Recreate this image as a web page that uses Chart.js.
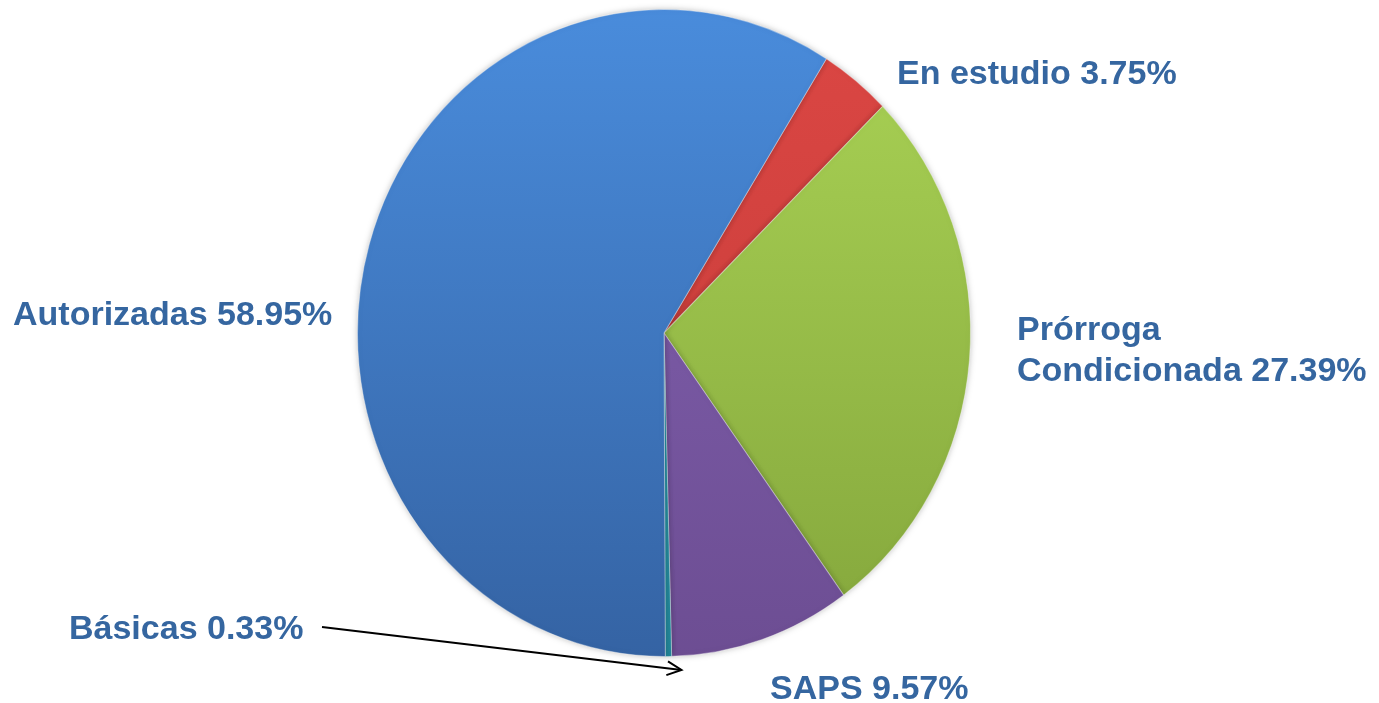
<!DOCTYPE html>
<html lang="es">
<head>
<meta charset="utf-8">
<title>Distribución</title>
<script src="https://cdn.jsdelivr.net/npm/chart.js@4.4.0/dist/chart.umd.min.js"></script>
<style>
    html, body { margin: 0; padding: 0; background: #fff; }
    #wrap { width: 1379px; height: 703px; position: relative; }
</style>
</head>
<body>
<div id="wrap"><canvas id="myChart" width="1379" height="703"></canvas></div>
<script>
// slices in clockwise order, starting at the top-right (Chart.js rotation below)
var categories = ['En estudio', 'Prórroga Condicionada', 'SAPS', 'Básicas', 'Autorizadas'];
var values = [3.75, 27.39, 9.57, 0.33, 58.95];
var topColors = ['#dc4744', '#abd456', '#8463b3', '#2fa7b8', '#4a8ddd'];
var bottomColors = ['#c23a37', '#83a53b', '#6c4d92', '#23879a', '#3462a2'];

// where each label goes (x, y of first baseline), same order as categories
var labelPos = [
    [897, 84],
    [1017, 340],
    [770, 699],
    [69, 639],
    [13, 325]
];

var cx = 664, cy = 333, rx = 307, ry = 324;

function sliceColor(ctx) {
    var i = ctx.dataIndex;
    var chart = ctx.chart;
    var g = chart.ctx.createLinearGradient(0, cy - ry, 0, cy + ry);
    g.addColorStop(0, topColors[i]);
    g.addColorStop(1, bottomColors[i]);
    return g;
}

// squash the circle a little so it matches the slightly tall pie
const ovalPlugin = {
    id: 'oval',
    beforeDatasetsDraw(chart) {
        const c = chart.ctx;
        c.save();
        c.translate(cx, cy);
        c.scale(1, ry / rx);
        c.translate(-cx, -cy);
        c.shadowColor = 'rgba(0,0,0,0.25)';
        c.shadowBlur = 6;
    },
    afterDatasetsDraw(chart) {
        chart.ctx.restore();
    }
};

const labelPlugin = {
    id: 'sliceLabels',
    afterDraw(chart) {
        const c = chart.ctx;
        c.save();
        c.font = 'bold 34px "Liberation Sans", Arial, sans-serif';
        c.fillStyle = '#3566a0';
        c.textAlign = 'left';
        c.textBaseline = 'alphabetic';
        for (var i = 0; i < categories.length; i++) {
            var txt = categories[i] + ' ' + values[i].toFixed(2) + '%';
            var p = labelPos[i];
            if (categories[i] === 'Prórroga Condicionada') {
                c.fillText('Prórroga', p[0], p[1]);
                c.fillText('Condicionada ' + values[i].toFixed(2) + '%', p[0], p[1] + 41);
            } else {
                c.fillText(txt, p[0], p[1]);
            }
        }

        // arrow from the Básicas label to its thin slice
        var arc = chart.getDatasetMeta(0).data[3];
        var mid = (arc.startAngle + arc.endAngle) / 2;
        var ex = cx + Math.cos(mid) * rx + 13;
        var ey = cy + Math.sin(mid) * ry + 13;
        var sx = 322, sy = 627;
        c.strokeStyle = '#000';
        c.lineWidth = 2;
        c.beginPath();
        c.moveTo(sx, sy);
        c.lineTo(ex, ey);
        c.stroke();
        var ang = Math.atan2(ey - sy, ex - sx);
        c.beginPath();
        c.moveTo(ex - 16 * Math.cos(ang - 0.45), ey - 16 * Math.sin(ang - 0.45));
        c.lineTo(ex, ey);
        c.lineTo(ex - 16 * Math.cos(ang + 0.45), ey - 16 * Math.sin(ang + 0.45));
        c.stroke();
        c.restore();
    }
};

const ctx = document.getElementById('myChart').getContext('2d');
const myChart = new Chart(ctx, {
    type: 'pie',
    data: {
        labels: categories,
        datasets: [{
            data: values,
            backgroundColor: sliceColor,
            borderColor: 'rgba(255,255,255,0.35)',
            borderWidth: 1
        }]
    },
    options: {
        responsive: false,
        animation: false,
        rotation: 32,
        layout: {
            padding: { left: cx - rx, right: 1379 - (cx + rx), top: cy - rx, bottom: 703 - (cy + rx) }
        },
        plugins: {
            legend: { display: false },
            tooltip: { enabled: false }
        }
    },
    plugins: [ovalPlugin, labelPlugin]
});
</script>
</body>
</html>
